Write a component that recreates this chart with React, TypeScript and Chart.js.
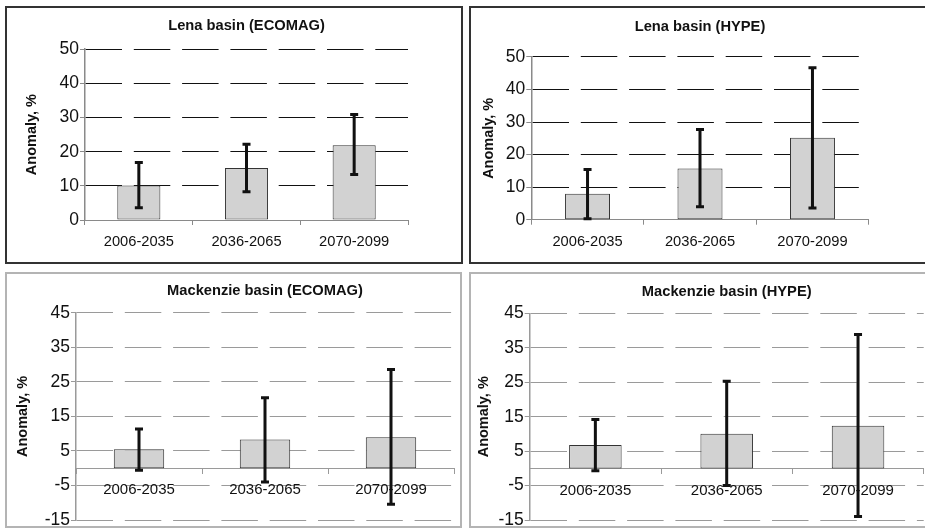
import React, { useEffect, useRef } from 'react';
import { Chart, registerables } from 'chart.js';

Chart.register(...registerables);

// ---- data ----
const categories = ['2006-2035', '2036-2065', '2070-2099'];
const lenaTicks = [0, 10, 20, 30, 40, 50];
const mackTicks = [-15, -5, 5, 15, 25, 35, 45];

const lenaEcomagMean = [10.1, 15.2, 21.9];
const lenaEcomagLow = [3.6, 8.3, 13.3];
const lenaEcomagHigh = [16.8, 22.2, 30.9];

const lenaHypeMean = [8.0, 15.7, 25.2];
const lenaHypeLow = [0.3, 4.0, 3.6];
const lenaHypeHigh = [15.4, 27.7, 46.7];

const mackEcomagMean = [5.5, 8.3, 9.0];
const mackEcomagLow = [-0.6, -4.0, -10.4];
const mackEcomagHigh = [11.4, 20.4, 28.6];

const mackHypeMean = [6.8, 10.1, 12.4];
const mackHypeLow = [-0.7, -5.0, -14.0];
const mackHypeHigh = [14.2, 25.3, 38.9];

const FONT = "'Liberation Sans', Arial, sans-serif";

type Geo = {
  left: number; top: number; w: number; h: number; border: string;
  yWidth: number; padRight: number; padBottom: number;
  titlePadTop: number; titlePadBottom: number; yTitlePad: number;
  xHeight: number; xTickPad: number; zeroAxis: boolean;
  gridColor: string; axisColor: string; xFont: number;
};

type PanelProps = {
  title: string; mean: number[]; low: number[]; high: number[];
  ticks: number[]; geo: Geo;
};

function makeErrorPlugin(low: number[], high: number[]) {
  return {
    id: 'errorBars',
    afterDatasetsDraw(chart: any) {
      const meta = chart.getDatasetMeta(0);
      const ys = chart.scales.y;
      const ctx = chart.ctx;
      ctx.save();
      ctx.strokeStyle = '#111';
      ctx.lineWidth = 3;
      ctx.lineCap = 'butt';
      const cap = 4;
      meta.data.forEach((el: any, i: number) => {
        const x = el.x;
        const yH = ys.getPixelForValue(high[i]);
        const yL = ys.getPixelForValue(low[i]);
        ctx.beginPath();
        ctx.moveTo(x, yH);
        ctx.lineTo(x, yL);
        ctx.moveTo(x - cap, yH);
        ctx.lineTo(x + cap, yH);
        ctx.moveTo(x - cap, yL);
        ctx.lineTo(x + cap, yL);
        ctx.stroke();
      });
      ctx.restore();
    },
  };
}

function Panel({ title, mean, low, high, ticks, geo }: PanelProps) {
  const ref = useRef<HTMLCanvasElement | null>(null);
  const cw = geo.w - 4;
  const ch = geo.h - 4;
  useEffect(() => {
    if (!ref.current) return;
    const tickVals = ticks;
    const chart = new Chart(ref.current, {
      type: 'bar',
      data: {
        labels: categories,
        datasets: [
          {
            data: mean,
            backgroundColor: '#d2d2d2',
            borderColor: '#333',
            borderWidth: 1,
            borderSkipped: false,
            barPercentage: 0.4,
            categoryPercentage: 1,
          },
        ],
      },
      plugins: [makeErrorPlugin(low, high)],
      options: {
        animation: false,
        responsive: false,
        devicePixelRatio: 1,
        events: [],
        layout: { padding: { left: 0, right: geo.padRight, top: 0, bottom: geo.padBottom } },
        plugins: {
          legend: { display: false },
          tooltip: { enabled: false },
          title: {
            display: true,
            text: title,
            fullSize: false,
            color: '#111',
            font: { family: FONT, size: 14.7, weight: 'bold', lineHeight: 1.2 },
            padding: { top: geo.titlePadTop, bottom: geo.titlePadBottom },
          },
        },
        scales: {
          x: {
            position: geo.zeroAxis ? ({ y: 0 } as any) : 'bottom',
            grid: {
              display: true,
              drawOnChartArea: false,
              drawTicks: true,
              tickLength: 5,
              tickColor: geo.axisColor,
              offset: true,
            },
            border: { display: true, color: geo.axisColor, width: 1 },
            ticks: {
              autoSkip: false,
              maxRotation: 0,
              padding: geo.xTickPad,
              color: '#111',
              font: { family: FONT, size: geo.xFont, lineHeight: 1.2 },
            },
            afterFit: (s: any) => {
              if (!geo.zeroAxis) s.height = geo.xHeight;
              s.paddingLeft = 0;
              s.paddingRight = 0;
            },
          },
          y: {
            min: tickVals[0],
            max: tickVals[tickVals.length - 1],
            afterBuildTicks: (s: any) => {
              s.ticks = tickVals.map((v) => ({ value: v }));
            },
            grid: {
              color: (c: any) => (c.tick && c.tick.value === 0 ? 'rgba(0,0,0,0)' : geo.gridColor),
              lineWidth: 1,
              drawTicks: true,
              tickLength: 5,
              tickColor: geo.axisColor,
            },
            border: { display: true, color: geo.axisColor, width: 1.5, dash: [36.5, 11.8] },
            ticks: {
              padding: 1,
              color: '#111',
              font: { family: FONT, size: 17.5, lineHeight: 1.2 },
            },
            title: {
              display: true,
              text: 'Anomaly, %',
              color: '#111',
              font: { family: FONT, size: 14.5, weight: 'bold', lineHeight: 1.2 },
              padding: { top: geo.yTitlePad, bottom: 0 },
            },
            afterFit: (s: any) => {
              s.width = geo.yWidth;
              s.paddingTop = 0;
              s.paddingBottom = 0;
            },
          },
        },
      } as any,
    });
    return () => chart.destroy();
  }, []);
  return (
    <div
      style={{
        position: 'absolute',
        left: geo.left,
        top: geo.top,
        width: geo.w,
        height: geo.h,
        boxSizing: 'border-box',
        border: geo.border,
        background: '#fff',
      }}
    >
      <canvas
        ref={ref}
        width={cw}
        height={ch}
        style={{ position: 'absolute', left: 0, top: 0, width: cw, height: ch, display: 'block' }}
      />
    </div>
  );
}

const topBorder = '2px solid #333';
const botBorder = '2px solid #b4b4b4';

const geoTL: Geo = {
  left: 5, top: 6, w: 458, h: 258, border: topBorder,
  yWidth: 78, padRight: 53, padBottom: 0,
  titlePadTop: 9.3, titlePadBottom: 14.3, yTitlePad: 16.6,
  xHeight: 42, xTickPad: 8, zeroAxis: false,
  gridColor: '#111', axisColor: '#8a8a8a', xFont: 14.7,
};
const geoTR: Geo = {
  left: 469, top: 6, w: 458, h: 258, border: topBorder,
  yWidth: 60.3, padRight: 56.3, padBottom: 0,
  titlePadTop: 10, titlePadBottom: 21.3, yTitlePad: 9.3,
  xHeight: 42.3, xTickPad: 8.3, zeroAxis: false,
  gridColor: '#111', axisColor: '#8a8a8a', xFont: 14.7,
};
const geoBL: Geo = {
  left: 5, top: 272, w: 457, h: 256, border: botBorder,
  yWidth: 69, padRight: 6, padBottom: 6,
  titlePadTop: 8.3, titlePadBottom: 13, yTitlePad: 7.6,
  xHeight: 0, xTickPad: 7.8, zeroAxis: true,
  gridColor: '#9a9a9a', axisColor: '#9a9a9a', xFont: 15,
};
const geoBR: Geo = {
  left: 469, top: 272, w: 458, h: 256, border: botBorder,
  yWidth: 58.7, padRight: 1.3, padBottom: 6,
  titlePadTop: 9, titlePadBottom: 12.9, yTitlePad: 4.6,
  xHeight: 0, xTickPad: 8, zeroAxis: true,
  gridColor: '#9a9a9a', axisColor: '#9a9a9a', xFont: 15,
};

export default function App() {
  return (
    <div
      style={{
        position: 'absolute',
        left: 0,
        top: 0,
        width: 925,
        height: 529,
        overflow: 'hidden',
        background: '#fff',
      }}
    >
      <Panel title="Lena basin (ECOMAG)" mean={lenaEcomagMean} low={lenaEcomagLow} high={lenaEcomagHigh} ticks={lenaTicks} geo={geoTL} />
      <Panel title="Lena basin (HYPE)" mean={lenaHypeMean} low={lenaHypeLow} high={lenaHypeHigh} ticks={lenaTicks} geo={geoTR} />
      <Panel title="Mackenzie basin (ECOMAG)" mean={mackEcomagMean} low={mackEcomagLow} high={mackEcomagHigh} ticks={mackTicks} geo={geoBL} />
      <Panel title="Mackenzie basin (HYPE)" mean={mackHypeMean} low={mackHypeLow} high={mackHypeHigh} ticks={mackTicks} geo={geoBR} />
    </div>
  );
}
